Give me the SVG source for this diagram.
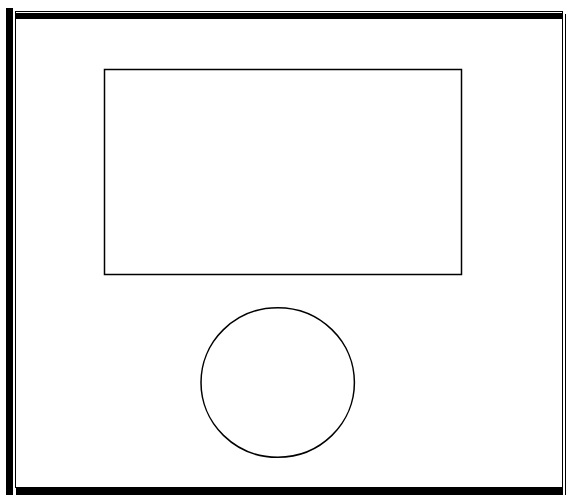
<svg xmlns="http://www.w3.org/2000/svg" width="567" height="495" viewBox="0 0 567 495">
<style>
.ln{fill:none;stroke:#000;stroke-width:1.5}
.bar{fill:#000}
</style>
<rect width="567" height="495" fill="#fff"/>
<g id="frame">
<rect class="ln" x="15.5" y="11.5" width="547" height="476" style="stroke-width:1"/>
<rect class="bar" x="16" y="13" width="546" height="6"/>
<rect class="bar" x="6" y="8" width="7" height="487"/>
<rect class="bar" x="16" y="488" width="547" height="7"/>
<line class="ln" x1="565.5" y1="14" x2="565.5" y2="495" style="stroke-width:1"/>
</g>
<g id="screen">
<rect class="ln" x="104.5" y="69.5" width="357" height="205"/>
</g>
<g id="button">
<ellipse class="ln" cx="277.7" cy="382.5" rx="76.7" ry="74.8"/>
</g>
<g id="connectors"></g>
</svg>
